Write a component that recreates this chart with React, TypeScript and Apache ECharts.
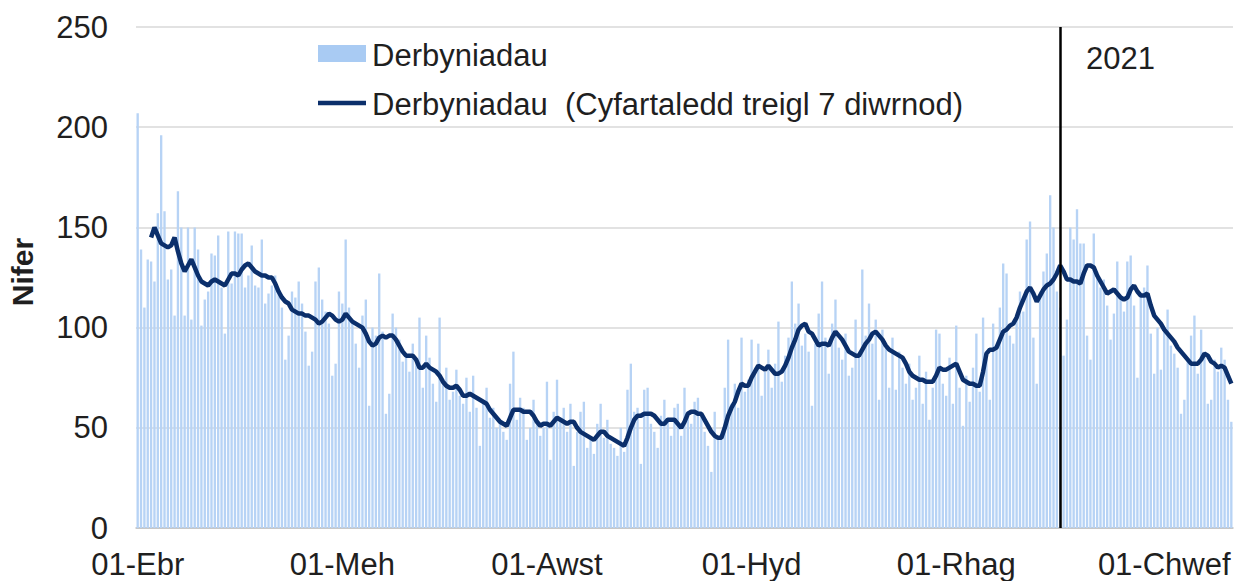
import React, { useEffect, useRef } from "react";
import * as echarts from "echarts";

// Welsh month abbreviations
const MONTHS_CY = ["Ion", "Chwef", "Maw", "Ebr", "Mai", "Meh", "Gorff", "Awst", "Medi", "Hyd", "Tach", "Rhag"];
const START_UTC = Date.UTC(2020, 3, 1);
const NUM_DAYS = 327;
const categories: string[] = Array.from({ length: NUM_DAYS }, (_, i) => {
  const d = new Date(START_UTC + i * 86400000);
  return `${String(d.getUTCDate()).padStart(2, "0")}-${MONTHS_CY[d.getUTCMonth()]}`;
});
const tickLabels = ["01-Ebr", "01-Meh", "01-Awst", "01-Hyd", "01-Rhag", "01-Chwef"];
const yearMarkCategory = "01-Ion";
const yearMarkLabel = "2021";
const yAxisTitle = "Nifer";
const barSeriesName = "Derbyniadau";
const lineSeriesName = "Derbyniadau  (Cyfartaledd treigl 7 diwrnod)";

// Daily admissions (bars)
const admissionsAprMay = [207,139,110,134,133,123,157,196,158,124,129,106,168,150,106,150,104,150,139,101,114,118,137,136,146,120,97,148,122,148,147,147,120,126,141,121,120,144,112,117,121];
const admissionsMayJun = [126,118,110,84,96,118,115,123,112,98,81,88,123,130,114,108,102,76,82,118,112,144,110,104,92,80,106,114,61,100,96,127,98,57,67,107,100,94,83,85];
const admissionsJunJul = [78,92,84,105,70,96,85,72,63,105,74,80,64,68,79,66,62,75,58,76,60,41,63,70,55,60,50,52,48,44,72,88,54,65,60,44,50,64,52,46];
const admissionsJulSep = [50,73,34,58,74,55,60,48,62,31,48,58,63,40,44,37,52,62,45,54,42,40,36,50,38,69,82,58,60,32,69,70,52,48,40,56,64,55,46,60];
const admissionsSepOct = [62,46,70,58,52,63,65,56,48,41,28,58,44,47,70,94,62,72,60,95,68,74,94,80,92,66,78,89,70,82,103,73,86,95,123,102,112,91,97,88];
const admissionsOctNov = [61,92,107,123,95,77,102,114,90,84,97,76,80,104,88,129,96,112,92,104,64,99,90,70,95,69,88,80,72,82,64,70,86,62,78,54,70,99,97,72];
const admissionsNovJan = [66,85,62,101,70,51,76,63,80,97,68,105,88,64,102,90,110,132,127,96,92,104,118,108,144,153,95,72,118,128,137,166,150,118,110,86,104,150,144,159];
const admissionsJanFeb = [142,142,96,84,147,128,120,124,111,94,107,133,114,108,133,136,111,75,116,120,131,97,77,100,79,99,109,91,87,80,57,64,84,96,106,77,99,88,62,64,84,78,90,84,64,53];

// 7-day rolling average (line)
const avgAprMay = [null,null,null,null,145,150,146,142,141,140,141,145,138,132,128,131,134,130,126,123,122,121,123,124,123,122,121,124,127,127,126,129,131,132,130,128,127,126,126,125,125];
const avgMayJun = [122,118,115,113,112,109,108,107,107,106,106,105,104,102,103,105,107,106,104,103,104,107,105,103,102,101,100,97,93,91,92,95,96,95,96,96,94,91,88,86];
const avgJunJul = [86,86,84,80,80,82,80,79,78,76,73,71,70,70,71,69,66,66,67,66,65,64,63,62,59,57,55,53,52,51,55,59,59,59,58,58,58,56,53,51];
const avgJulSep = [52,52,51,53,55,54,53,52,53,53,50,48,47,46,45,44,46,48,48,46,45,44,43,42,41,45,50,54,56,56,57,57,57,56,54,52,52,54,54,54];
const avgSepOct = [52,50,53,57,58,58,57,57,54,51,48,46,45,45,50,56,60,63,68,72,71,71,75,78,81,80,79,81,79,77,77,78,81,85,90,94,99,101,102,98];
const avgOctNov = [97,94,91,92,92,91,95,98,96,94,91,88,87,86,86,89,92,94,97,98,96,94,91,89,88,87,86,85,82,78,76,75,74,74,73,73,73,76,80,79];
const avgNovJan = [79,80,81,82,78,74,73,72,72,71,71,78,87,89,89,90,94,98,99,101,102,105,110,114,118,120,117,113,116,119,121,122,124,127,131,128,124,124,123,123];
const avgJanFeb = [122,127,131,131,130,126,123,120,117,118,119,117,115,114,115,119,121,118,116,116,117,111,106,104,102,99,97,95,93,90,88,86,84,82,82,82,84,87,86,83,82,80,81,80,76,72];

const admissions = [
  ...admissionsAprMay, ...admissionsMayJun, ...admissionsJunJul, ...admissionsJulSep,
  ...admissionsSepOct, ...admissionsOctNov, ...admissionsNovJan, ...admissionsJanFeb,
];
const rollingAvg = [
  ...avgAprMay, ...avgMayJun, ...avgJunJul, ...avgJulSep,
  ...avgSepOct, ...avgOctNov, ...avgNovJan, ...avgJanFeb,
];

const FONT = '"Liberation Sans", Arial, sans-serif';
const TEXT = "#1f1f1f";
const BAR_COLOR = "#B7D3F5";
const LEGEND_BAR_COLOR = "#A9CBF3";
const LINE_COLOR = "#0B2F6B";

export default function App() {
  const ref = useRef<HTMLDivElement>(null);
  useEffect(() => {
    if (!ref.current) return;
    const chart = echarts.init(ref.current, undefined, { renderer: "svg" });
    const isLabelled = (_i: number, v: string) => tickLabels.includes(v);
    chart.setOption({
      animation: false,
      textStyle: { fontFamily: FONT },
      grid: { left: 136, right: 4, top: 27, bottom: 53, containLabel: false, outerBoundsMode: "none" },
      xAxis: {
        type: "category",
        data: categories,
        boundaryGap: true,
        axisLine: { lineStyle: { color: "#BFBFBF", width: 1.5 } },
        axisTick: { alignWithLabel: true, interval: isLabelled, length: 9, lineStyle: { color: "#BFBFBF", width: 1.5 } },
        axisLabel: { interval: isLabelled, fontSize: 31, lineHeight: 30, color: TEXT, margin: 21, fontFamily: FONT },
        splitLine: { show: false },
      },
      yAxis: {
        type: "value",
        min: 0,
        max: 250,
        interval: 50,
        axisLine: { show: false },
        axisTick: { show: false },
        splitLine: { lineStyle: { color: "#D9D9D9", width: 1.5 } },
        axisLabel: { fontSize: 31, color: TEXT, margin: 28, fontFamily: FONT },
      },
      series: [
        {
          type: "bar",
          name: barSeriesName,
          data: admissions,
          itemStyle: { color: BAR_COLOR },
          barCategoryGap: "30%",
          markLine: {
            symbol: "none",
            silent: true,
            label: { show: false },
            lineStyle: { color: "#000000", width: 2.5, type: "solid" },
            data: [{ xAxis: yearMarkCategory }],
          },
        },
        {
          type: "line",
          name: lineSeriesName,
          data: rollingAvg,
          symbol: "none",
          connectNulls: false,
          lineStyle: { color: LINE_COLOR, width: 4.5 },
          itemStyle: { color: LINE_COLOR },
          z: 3,
        },
      ],
      graphic: [
        {
          type: "text",
          x: 22,
          y: 272,
          rotation: Math.PI / 2,
          style: { text: yAxisTitle, fontSize: 30, fontWeight: "bold", fill: TEXT, fontFamily: FONT, align: "center", verticalAlign: "middle" },
        },
        { type: "rect", shape: { x: 318, y: 45, width: 48, height: 17 }, style: { fill: LEGEND_BAR_COLOR } },
        {
          type: "text",
          x: 372,
          y: 55,
          style: { text: barSeriesName, fontSize: 31, fill: TEXT, fontFamily: FONT, verticalAlign: "middle", align: "left" },
        },
        {
          type: "line",
          shape: { x1: 318, y1: 103, x2: 366, y2: 103 },
          style: { stroke: LINE_COLOR, lineWidth: 4.5 },
        },
        {
          type: "text",
          x: 372,
          y: 104,
          style: { text: lineSeriesName, fontSize: 31, fill: TEXT, fontFamily: FONT, verticalAlign: "middle", align: "left" },
        },
        {
          type: "text",
          x: 1086,
          y: 58,
          style: { text: yearMarkLabel, fontSize: 31, fill: TEXT, fontFamily: FONT, verticalAlign: "middle", align: "left" },
        },
      ],
    });
    return () => chart.dispose();
  }, []);
  return <div ref={ref} style={{ position: "absolute", left: 0, top: 0, width: 1237, height: 581 }} />;
}
